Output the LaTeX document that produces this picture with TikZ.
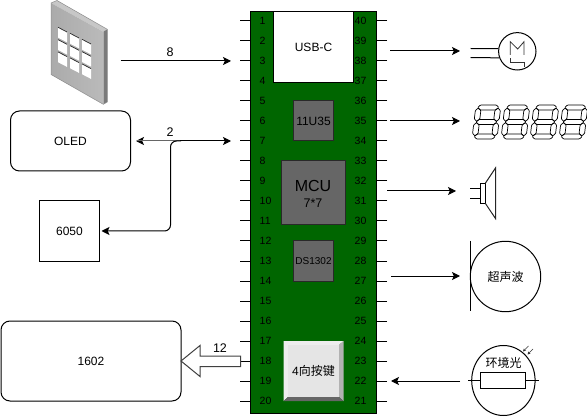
\documentclass[tikz,border=0pt]{standalone}
\usepackage{fontspec}
\setmainfont{Liberation Sans}
\newfontfamily\cjk{Noto Sans CJK SC}
\usetikzlibrary{arrows.meta,calc,shapes.geometric}
\definecolor{pcb}{HTML}{006600}
\definecolor{chipgrey}{HTML}{666666}
\tikzset{
  wire/.style={draw=black,line width=1pt},
  arr/.style={wire,-{Stealth[length=8pt,width=8pt,inset=1.8pt]}},
  arrboth/.style={wire,{Stealth[length=8pt,width=8pt,inset=1.8pt]}-{Stealth[length=8pt,width=8pt,inset=1.8pt]}},
  box/.style={draw=black,line width=1pt,fill=white,inner sep=0pt,font=\fontsize{12}{14}\selectfont},
  chip/.style={draw=black!60!chipgrey,line width=1pt,fill=chipgrey,inner sep=0pt,text=black,font=\fontsize{12}{14}\selectfont},
  pinlab/.style={inner sep=0pt,text=black,font=\fontsize{10.5}{12}\selectfont},
  lab/.style={inner sep=0pt,font=\fontsize{12.5}{14}\selectfont},
  seg/.style={draw=black,line width=.7pt,rounded corners=.8pt},
  symbolline/.style={draw=black,line width=1pt},
}
\newcommand{\segdigit}[1]{%
  \begin{scope}[shift={(#1,105)},xslant=.12]
    \foreach \yy in {0,14.5,29}{
      \draw[seg] (2,\yy+2.5) -- (4.5,\yy) -- (20.5,\yy) -- (23,\yy+2.5) -- (20.5,\yy+5) -- (4.5,\yy+5) -- cycle;}
    \foreach \xx in {0,19.5}{\foreach \yy in {3,17.5}{
      \draw[seg] (\xx+2.75,\yy) -- (\xx+5.5,\yy+2.5) -- (\xx+5.5,\yy+11) -- (\xx+2.75,\yy+13.5) -- (\xx,\yy+11) -- (\xx,\yy+2.5) -- cycle;}}
  \end{scope}}
\begin{document}
\begin{tikzpicture}[x=1pt,y=-1pt]
\useasboundingbox (0,0) rectangle (587,417);

% board and pins
\node[draw=black,line width=1pt,fill=pcb,minimum width=126pt,minimum height=402pt,inner sep=0pt] (board) at (313.5,212.5) {};
\foreach \n in {1,...,20}{
  \pgfmathsetmacro{\py}{21+20*(\n-1)}
  \coordinate (L\n) at (240,\py);
  \draw[wire] (L\n) -- (250.5,\py);
  \node[pinlab,anchor=west] (pl\n) at (259.5,\py) {\n};
}
\foreach \n in {21,...,40}{
  \pgfmathsetmacro{\py}{401-20*(\n-21)}
  \coordinate (R\n) at (387,\py);
  \draw[wire] (R\n) -- (376.5,\py);
  \node[pinlab] (pl\n) at (360.5,\py) {\n};
}

% parts on the board
\node[box,minimum width=80pt,minimum height=71.5pt] (usb) at (313.5,47.2) {USB-C};
\node[chip,minimum width=40pt,minimum height=40pt] (u35) at (313.5,121) {11U35};
\node[chip,minimum width=64pt,minimum height=64pt] (mcu) at (313.5,193) {};
\node[inner sep=0pt,font=\fontsize{16}{18}\selectfont] (mcut) at (313,186) {MCU};
\node[lab] (mcus) at (313,203) {7*7};
\node[chip,minimum width=40pt,minimum height=40pt,font=\fontsize{10}{12}\selectfont] (ds) at (313.5,261) {DS1302};

% four-way button
\fill[white!93!black] (283.5,341) -- (343.5,341) -- (339,345) -- (288,345) -- (288,397) -- (283.5,401) -- cycle;
\fill[black!30] (343.5,341) -- (343.5,401) -- (339,397) -- (339,345) -- cycle;
\fill[chipgrey] (283.5,401) -- (343.5,401) -- (339,397) -- (288,397) -- cycle;
\node[inner sep=0pt,fill=black!10,minimum width=51pt,minimum height=52pt,font=\fontsize{12}{14}\selectfont] (btn) at (313.5,371) {4{\cjk 向按键}};

% keypad
\fill[black!22] (51,3) -- (57,0.5) -- (107.3,29.3) -- (103.3,31.7) -- cycle;
\fill[black!52] (103.3,31.7) -- (107.3,29.3) -- (107.3,102) -- (103.3,104.3) -- cycle;
\shade[left color=black!33,right color=black!27] (51,3) -- (103.3,31.7) -- (103.3,104.3) -- (51,74.5) -- cycle;
\draw[black!45,line width=.5pt] (51,3) -- (57,0.5) -- (107.3,29.3) -- (107.3,102) -- (103.3,104.3) -- (51,74.5) -- cycle;
\foreach \c in {0,1,2}{\foreach \r in {0,1,2}{
  \pgfmathsetmacro{\wx}{58+12*\c}
  \pgfmathsetmacro{\wy}{27.3+6*\c+12.3*\r}
  \fill[white] (\wx,\wy) -- (\wx+9,\wy+4.7) -- (\wx+9,\wy+15) -- (\wx,\wy+10.3) -- cycle;
  \draw[black!85,line width=.7pt] (\wx,\wy) -- (\wx+9,\wy+4.7);
}}
\coordinate (kp) at (120.5,61);

% left-hand boxes
\node[box,rounded corners=9pt,minimum width=120pt,minimum height=60pt] (oled) at (70.5,141) {OLED};
\node[box,minimum width=60pt,minimum height=60pt] (imu) at (69.5,231) {6050};
\node[box,rounded corners=9pt,minimum width=180pt,minimum height=80pt] (lcd) at (91,361) {1602};

% left-hand connectors
\coordinate (k8) at (231,61);
\coordinate (o7) at (231,141);
\coordinate (oe) at (136,141);
\coordinate (br) at (181,141);
\draw[arr] (kp) -- (k8);
\node[lab] (n8) at (170,52) {8};
\draw[arrboth] (oe) -- (o7);
\draw[wire,black!60,line width=.6pt] (137,140.2) -- (180,140.2);
\node[lab] (n2) at (170,132) {2};
\draw[arr,rounded corners=6pt] (br) -- (170.5,141) -- (170.5,231) -- (imu.east |- 0,231) -- ++(1.5,0);
\draw[line width=1pt,draw=black!75,fill=white] (181,361) -- (200,345.5) -- (200,356) -- (240.5,356) -- (240.5,366.5) -- (200,366.5) -- (200,376.5) -- cycle;
\node[lab] (n12) at (220,348) {12};

% right-hand arrows
\coordinate (a1s) at (390,51);  \coordinate (a1e) at (460,51);
\coordinate (a2s) at (390,121); \coordinate (a2e) at (460,121);
\coordinate (a3s) at (387,191); \coordinate (a3e) at (456,191);
\coordinate (a4s) at (391,276); \coordinate (a4e) at (460,276);
\coordinate (a5s) at (460,381); \coordinate (a5e) at (391,381);
\foreach \p/\q in {a1s/a1e,a2s/a2e,a3s/a3e,a4s/a4e,a5s/a5e}{\draw[arr] (\p) -- (\q);}

% motor
\node[draw=black,line width=1pt,circle,minimum size=37.4pt,inner sep=0pt] (motor) at (517.3,51.3) {};
\coordinate (mw1) at (470.5,48.5);
\coordinate (mw2) at (470.5,57.5);
\draw[symbolline] (mw1) -- (motor.172);
\draw[symbolline] (mw2) -- (motor.200);
\draw[symbolline,black!80,line width=.8pt] (510.3,55) -- (510.3,41.7) -- (517.7,49) -- (524,41.7) -- (524,55);
\draw[symbolline,black!80,line width=.8pt] (510.3,58.3) -- (510.3,62.3) -- (524,62.3) -- (524,66.7);

% seven-segment display
\foreach \d in {0,1,2,3}{\segdigit{476+29*\d}}

% speaker
\draw[symbolline,fill=white] (480.3,183.3) rectangle (485.3,203.3);
\draw[symbolline] (470,188.3) -- (480.3,188.3) (470,198.3) -- (480.3,198.3);
\draw[symbolline,black!85] (485.3,183.3) -- (495.5,168) -- (495.5,218.5) -- (485.3,203.3);

% ultrasonic
\node[draw=black,line width=1pt,circle,minimum size=70.4pt,inner sep=0pt,font=\cjk\fontsize{12}{14}\selectfont] (sonar) at (505.5,276.5) {超声波};
\coordinate (st) at (470.5,241);
\coordinate (sb) at (470.5,311);
\draw[symbolline] (st) -- (sb);

% ambient light sensor
\node[draw=black,line width=1pt,ellipse,minimum width=63.4pt,minimum height=70pt,inner sep=0pt] (amb) at (503.4,380.5) {};
\node[inner sep=0pt,font=\cjk\fontsize{12}{14}\selectfont] (ambt) at (503.5,362.5) {环境光};
\node[draw=black,line width=1pt,fill=white,minimum width=45.4pt,minimum height=16pt,inner sep=0pt] (res) at (503,380.5) {};
\coordinate (rl) at (468,380.5);
\coordinate (rr) at (538.5,380.5);
\draw[symbolline] (rl) -- (res.west);
\draw[symbolline] (res.east) -- (rr);
\coordinate (la1) at (533,349); \coordinate (la2) at (527.5,354.5);
\coordinate (lb1) at (528.5,346); \coordinate (lb2) at (523,351.5);
\foreach \p/\q in {la1/la2,lb1/lb2}{\draw[black!80,line width=.6pt,-{Stealth[length=3pt,width=3pt]}] (\p) -- (\q);}
\end{tikzpicture}
\end{document}
